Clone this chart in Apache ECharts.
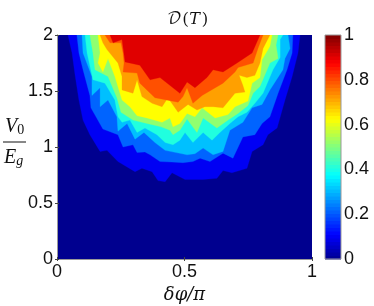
<!DOCTYPE html>
<html><head><meta charset="utf-8">
<style>html,body{margin:0;padding:0;background:#fff}#c{width:374px;height:306px}</style>
<script src="https://cdn.jsdelivr.net/npm/echarts@6/dist/echarts.min.js"></script>
</head><body><div id="c"></div>
<script>
// Contour boundaries: [dphi/pi, V0/Eg] pairs, each closed along V0/Eg = 2
const contour01 = [[.043,2],[.059,1.84],[.071,1.64],[.086,1.42],[.102,1.24],[.129,1.11],[.169,.96],[.196,.97],[.239,.87],[.306,.78],[.333,.81],[.373,.78],[.396,.70],[.424,.69],[.451,.77],[.502,.71],[.573,.71],[.627,.72],[.651,.79],[.686,.77],[.745,.81],[.765,.96],[.808,1.02],[.827,1.11],[.863,1.17],[.894,1.42],[.922,1.63],[.945,1.84],[.953,2]];
const contour02 = [[.078,2],[.086,1.84],[.102,1.69],[.129,1.46],[.133,1.35],[.18,1.16],[.239,1.11],[.259,1.0],[.298,1.02],[.314,.95],[.345,.955],[.365,.93],[.404,.87],[.45,.865],[.494,.86],[.533,.87],[.561,.9],[.6,.87],[.651,.945],[.69,.9],[.729,1.09],[.776,1.11],[.804,1.21],[.835,1.27],[.867,1.48],[.902,1.69],[.922,1.84],[.925,2]];
const contour03 = [[.098,2],[.102,1.84],[.137,1.63],[.137,1.46],[.169,1.53],[.169,1.36],[.2,1.42],[.235,1.27],[.239,1.14],[.275,1.21],[.306,1.07],[.341,1.13],[.384,1.04],[.424,.97],[.51,.93],[.541,.94],[.573,.99],[.612,.93],[.651,.96],[.678,1.15],[.729,1.22],[.765,1.35],[.804,1.38],[.835,1.51],[.886,1.69],[.894,1.79],[.914,1.88],[.906,2]];
const contour04 = [[.11,2],[.118,1.84],[.141,1.6],[.188,1.57],[.227,1.42],[.239,1.27],[.255,1.22],[.286,1.24],[.314,1.13],[.345,1.17],[.392,1.11],[.424,1.04],[.455,1.02],[.482,1.06],[.502,1.13],[.533,1.04],[.573,1.13],[.608,1.06],[.639,1.13],[.678,1.21],[.71,1.27],[.745,1.31],[.776,1.39],[.808,1.48],[.847,1.69],[.875,1.8],[.875,1.96],[.886,2]];
const contour05 = [[.129,2],[.141,1.84],[.149,1.69],[.2,1.63],[.235,1.44],[.251,1.31],[.298,1.24],[.353,1.21],[.408,1.18],[.443,1.15],[.455,1.11],[.482,1.15],[.51,1.25],[.549,1.13],[.573,1.26],[.627,1.17],[.671,1.24],[.71,1.30],[.749,1.37],[.769,1.48],[.796,1.54],[.835,1.75],[.867,1.79],[.859,1.91],[.867,2]];
const contour06 = [[.161,2],[.169,1.84],[.161,1.75],[.18,1.67],[.2,1.79],[.227,1.63],[.255,1.42],[.286,1.36],[.314,1.28],[.353,1.26],[.412,1.22],[.443,1.26],[.455,1.18],[.482,1.21],[.51,1.3],[.541,1.27],[.569,1.35],[.62,1.26],[.671,1.29],[.698,1.36],[.749,1.41],[.765,1.57],[.796,1.62],[.804,1.78],[.835,1.9],[.843,2]];
const contour07 = [[.169,2],[.18,1.93],[.196,1.87],[.239,1.75],[.255,1.63],[.255,1.51],[.298,1.48],[.314,1.6],[.333,1.45],[.373,1.39],[.412,1.36],[.435,1.44],[.475,1.31],[.514,1.38],[.549,1.33],[.58,1.36],[.612,1.36],[.651,1.35],[.698,1.48],[.737,1.49],[.729,1.55],[.714,1.64],[.745,1.62],[.776,1.64],[.796,1.75],[.808,1.88],[.835,2]];
const contour08 = [[.188,2],[.208,1.93],[.251,1.93],[.259,1.84],[.263,1.75],[.259,1.67],[.314,1.66],[.325,1.57],[.384,1.44],[.475,1.4],[.494,1.45],[.51,1.53],[.533,1.39],[.569,1.46],[.651,1.57],[.698,1.67],[.71,1.71],[.769,1.75],[.788,1.88],[.808,2]];
const contour09 = [[.208,2],[.22,1.93],[.255,1.96],[.267,1.76],[.325,1.73],[.365,1.6],[.404,1.62],[.482,1.48],[.51,1.58],[.541,1.53],[.588,1.62],[.612,1.69],[.651,1.67],[.706,1.75],[.765,1.84],[.796,2]];
const contours = [contour01,contour02,contour03,contour04,contour05,contour06,contour07,contour08,contour09];
const bandColors = ['#0000f4','#0064ff','#00c0ff','#20ffdf','#90ff70','#ffff00','#ffa000','#ff5000','#e00000'];
const xTicks = [0,0.5,1];
const yTicks = [0,0.5,1,1.5,2];
const jetStops = ['#00008f','#0000ff','#00ffff','#ffff00','#ff0000','#800000'];
const jetPos = [0,0.11,0.375,0.625,0.875,1];
const barSteps = Array.from({length:64},(_,i)=>i);

function hex(c){return [1,3,5].map(i=>parseInt(c.substr(i,2),16));}
function jet(v){
  let k=0; while(k<jetPos.length-2&&v>jetPos[k+1])k++;
  const t=(v-jetPos[k])/(jetPos[k+1]-jetPos[k]),a=hex(jetStops[k]),b=hex(jetStops[k+1]);
  return 'rgb('+a.map((x,i)=>Math.round(x+(b[i]-x)*t)).join(',')+')';
}
const F='"Liberation Sans",Arial,sans-serif', S='"Liberation Serif",serif';
const GRAY='#9a9a9a';
const labelStyle={fontFamily:F,fontSize:18,color:'#111'};
const chart=echarts.init(document.getElementById('c'),null,{renderer:'canvas'});
chart.setOption({
  animation:false,
  backgroundColor:'#fff',
  title:{text:'𝒟(𝑇)',left:183,top:6,textAlign:'center',textStyle:{fontFamily:'"DejaVu Math TeX Gyre","DejaVu Serif",'+S,fontSize:16,fontWeight:'normal',color:'#111'}},
  grid:[
    {left:57,top:35,width:255,height:224,show:true,backgroundColor:'#00008f',borderWidth:0,outerBoundsMode:'none'},
    {left:325,top:35,width:16,height:224,show:false,outerBoundsMode:'none'}
  ],
  xAxis:[
    {gridIndex:0,type:'value',min:0,max:1,interval:0.5,position:'bottom',splitLine:{show:false},
     axisLine:{lineStyle:{color:GRAY,width:1}},axisTick:{inside:true,length:2,lineStyle:{color:'#444'}},
     axisLabel:{...labelStyle,margin:4,formatter:v=>xTicks.includes(v)?String(v):''},
     name:'δφ/π',nameLocation:'middle',nameGap:25,nameTextStyle:{fontFamily:'"DejaVu Serif",serif',fontStyle:'italic',fontSize:18,color:'#111'}},
    {gridIndex:0,type:'value',min:0,max:1,interval:0.5,position:'top',splitLine:{show:false},
     axisLine:{lineStyle:{color:GRAY,width:1}},axisTick:{inside:true,length:2,lineStyle:{color:'#444'}},axisLabel:{show:false}},
    {gridIndex:1,type:'value',min:0,max:1,show:false}
  ],
  yAxis:[
    {gridIndex:0,type:'value',min:0,max:2,interval:0.5,position:'left',splitLine:{show:false},
     axisLine:{lineStyle:{color:GRAY,width:1}},axisTick:{inside:true,length:2,lineStyle:{color:'#444'}},
     axisLabel:{...labelStyle,margin:4,formatter:v=>yTicks.includes(v)?String(v):''}},
    {gridIndex:0,type:'value',min:0,max:2,interval:0.5,position:'right',splitLine:{show:false},
     axisLine:{lineStyle:{color:GRAY,width:1}},axisTick:{inside:true,length:2,lineStyle:{color:'#444'}},axisLabel:{show:false}},
    {gridIndex:1,type:'value',min:0,max:1,interval:0.2,position:'right',splitLine:{show:false},
     axisLine:{show:false},axisTick:{show:false},
     axisLabel:{...labelStyle,margin:3,formatter:v=>String(+v.toFixed(1))}}
  ],
  series:[
    {type:'custom',xAxisIndex:0,yAxisIndex:0,silent:true,clip:true,z:2,
     data:contours.map((c,i)=>[i]),
     encode:{x:[],y:[]},
     renderItem:(p,api)=>{
       const i=api.value(0);
       return {type:'polygon',shape:{points:contours[i].map(q=>api.coord(q))},style:{fill:bandColors[i],stroke:bandColors[i],lineWidth:0.3}};
     }},
    {type:'custom',xAxisIndex:2,yAxisIndex:2,silent:true,z:2,
     data:barSteps.map(i=>[i]),
     encode:{x:[],y:[]},
     renderItem:(p,api)=>{
       const i=api.value(0);
       const a=api.coord([0,i/64]),b=api.coord([1,(i+1)/64]);
       return {type:'rect',shape:{x:a[0],y:b[1],width:b[0]-a[0],height:a[1]-b[1]+0.5},style:{fill:jet((i+.5)/64)}};
     }}
  ],
  graphic:[
    {type:'rect',silent:true,z:50,shape:{x:325,y:35,width:16,height:224},style:{fill:'none',stroke:GRAY,lineWidth:1}},
    {type:'line',silent:true,z:50,shape:{x1:3,y1:142,x2:26,y2:142},style:{stroke:'#111',lineWidth:1}},
    {type:'text',silent:true,z:50,left:5,top:117,style:{text:'{v|V}{s|0}',rich:{v:{fontFamily:S,fontStyle:'italic',fontSize:20,fill:'#111'},s:{fontFamily:S,fontSize:14,fill:'#111',verticalAlign:'bottom',padding:[6,0,0,0]}}}},
    {type:'text',silent:true,z:50,left:4,top:148,style:{text:'{v|E}{s|g}',rich:{v:{fontFamily:S,fontStyle:'italic',fontSize:20,fill:'#111'},s:{fontFamily:S,fontStyle:'italic',fontSize:14,fill:'#111',verticalAlign:'bottom',padding:[6,0,0,0]}}}}
  ]
});
</script></body></html>
